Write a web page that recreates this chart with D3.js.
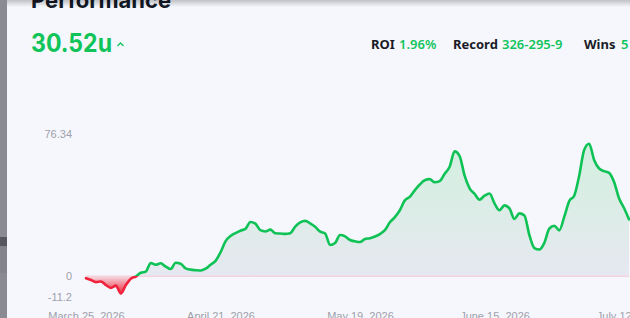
<!DOCTYPE html>
<html><head><meta charset="utf-8">
<script src="https://cdn.jsdelivr.net/npm/d3@7/dist/d3.min.js"></script>
<style>html,body{margin:0;padding:0;background:#f5f7fc;overflow:hidden}svg{display:block}</style>
</head><body>
<svg id="c" width="630" height="318"></svg>
<script>
// ---- data ----
const startDate = [2026, 2, 25]; // March 25, 2026 (month 0-based)
const cumulativeUnits = [
  -1.1, -2.1, -3.2, -2.9, -4.8, -6.3, -5.1, -9.3, -4.8, -1.4,
  -0.2, 1.8, 2.4, 7.1, 6.1, 6.9, 5.1, 3.8, 7.2, 6.7,
  4.2, 3.5, 3.2, 3.0, 4.0, 6.1, 8.2, 12.8, 18.7, 21.5,
  23.1, 24.4, 25.4, 29.1, 28.2, 24.7, 24.0, 25.0, 23.0, 22.9,
  22.7, 23.1, 26.6, 28.9, 29.7, 28.3, 26.5, 23.9, 22.9, 16.7,
  17.8, 22.1, 21.4, 19.4, 18.7, 18.3, 20.0, 20.4, 21.3, 22.6,
  24.7, 28.9, 31.7, 35.4, 40.7, 42.6, 46.1, 49.2, 51.5, 52.1,
  50.4, 51.0, 55.0, 58.8, 67.0, 64.5, 54.0, 47.2, 44.2, 41.1,
  43.2, 44.4, 39.1, 35.4, 38.0, 36.4, 30.7, 33.7, 32.6, 22.1,
  15.1, 14.3, 17.9, 25.5, 27.1, 24.6, 31.8, 40.3, 43.2, 53.9,
  67.8, 71.1, 62.4, 57.8, 56.4, 55.5, 50.6, 41.8, 36.6, 30.52
];
const yTickValues = [76.34, 0, -11.2];
const yDomain = [-11.2, 76.34];
const xTickIndices = [0, 27, 55, 82, 109];
const titleText = "Performance";
const headlineText = "30.52u";
const statLabels = ["ROI", "Record", "Wins"];
const statValues = ["1.96%", "326-295-9", "5"];

// ---- chart ----
const svg = d3.select("#c");
const green = "#0fc255", red = "#f0233d";
const dates = cumulativeUnits.map((v, i) => d3.timeDay.offset(new Date(startDate[0], startDate[1], startDate[2]), i));
const data = cumulativeUnits.map((v, i) => ({d: dates[i], v}));

const x = d3.scaleTime().domain([dates[0], dates[dates.length - 1]]).range([86, 629]);
const y = d3.scaleLinear().domain(yDomain).range([297, 134]);

const defs = svg.append("defs");
const zeroOff = (y(0) - y(yDomain[1])) / (y(yDomain[0]) - y(yDomain[1]));

const fg = defs.append("linearGradient").attr("id", "fillG")
  .attr("gradientUnits", "userSpaceOnUse").attr("x1", 0).attr("x2", 0)
  .attr("y1", y(yDomain[1])).attr("y2", y(yDomain[0]));
[[0, "#d3eee1", 1], [0.3, "#d8eee4", 1], [0.6, "#e0ebea", 1], [zeroOff, "#e6e8f1", 1],
 [zeroOff, "#f6dbe1", 1], [0.97, "#ee3a4e", 1], [1, "#ee2a40", 1]].forEach(s =>
  fg.append("stop").attr("offset", s[0]).attr("stop-color", s[1]).attr("stop-opacity", s[2]));

const lg = defs.append("linearGradient").attr("id", "lineG")
  .attr("gradientUnits", "userSpaceOnUse").attr("x1", 0).attr("x2", 0)
  .attr("y1", y(yDomain[1])).attr("y2", y(yDomain[0]));
[[0, green], [zeroOff, green], [zeroOff, red], [1, red]].forEach(s =>
  lg.append("stop").attr("offset", s[0]).attr("stop-color", s[1]));

const area = d3.area().curve(d3.curveMonotoneX).x(d => x(d.d)).y0(y(0)).y1(d => y(d.v));
const line = d3.line().curve(d3.curveMonotoneX).x(d => x(d.d)).y(d => y(d.v));

svg.append("path").datum(data).attr("d", area).attr("fill", "url(#fillG)");
svg.append("line").attr("x1", x.range()[0]).attr("x2", x.range()[1])
  .attr("y1", y(0)).attr("y2", y(0)).attr("stroke", "#f3d4de").attr("stroke-width", 1.5);
svg.append("path").datum(data).attr("d", line).attr("fill", "none")
  .attr("stroke", "url(#lineG)").attr("stroke-width", 2.6)
  .attr("stroke-linejoin", "round").attr("stroke-linecap", "round");

// y axis labels
const yAxis = svg.append("g").attr("transform", "translate(72,0)")
  .call(d3.axisLeft(y).tickValues(yTickValues).tickSize(0).tickPadding(0).tickFormat(d => String(d)));
yAxis.select(".domain").remove();
yAxis.selectAll("text").attr("fill", "#9ea1ab").style("font", "11px 'Liberation Sans', Arial, sans-serif");

// x axis labels
const fmt = d3.timeFormat("%B %-d, %Y");
const xAxis = svg.append("g").attr("transform", "translate(0,312)")
  .call(d3.axisBottom(x).tickValues(xTickIndices.map(i => dates[i])).tickSize(0).tickPadding(0).tickFormat(fmt));
xAxis.select(".domain").remove();
xAxis.selectAll("text").attr("fill", "#9ea1ab").style("font", "11px 'Liberation Sans', Arial, sans-serif");

// header
svg.append("text").attr("x", 31).attr("y", 8).text(titleText)
  .attr("fill", "#121826").style("font", "700 22px Inter, sans-serif");
svg.append("text").attr("x", 31).attr("y", 52).text(headlineText)
  .attr("textLength", 81).attr("lengthAdjust", "spacingAndGlyphs")
  .attr("fill", "#10c45a").style("font", "700 25px Inter, sans-serif");
svg.append("path").attr("d", "M117.5,46 L120.5,43 L123.5,46").attr("fill", "none")
  .attr("stroke", "#10c45a").attr("stroke-width", 1.3);

const statLabelX = [371, 453, 584], statValueX = [399, 502, 621];
statLabels.forEach((t, i) => {
  svg.append("text").attr("x", statLabelX[i]).attr("y", 49).text(t)
    .attr("fill", "#1a1b26").style("font", "700 13px 'Noto Sans', 'Open Sans', sans-serif");
  svg.append("text").attr("x", statValueX[i]).attr("y", 49).text(statValues[i])
    .attr("fill", "#12c45c").style("font", "600 13px 'Noto Sans', 'Open Sans', sans-serif");
});

// page frame details: top shadow and left strip
const sg = defs.append("linearGradient").attr("id", "shadowG").attr("x1", 0).attr("x2", 0).attr("y1", 0).attr("y2", 1);
sg.append("stop").attr("offset", 0).attr("stop-color", "#000").attr("stop-opacity", 0.22);
sg.append("stop").attr("offset", 1).attr("stop-color", "#000").attr("stop-opacity", 0);
svg.append("rect").attr("x", 0).attr("y", 0).attr("width", 630).attr("height", 7).attr("fill", "url(#shadowG)");
svg.append("rect").attr("x", 0).attr("y", 0).attr("width", 7).attr("height", 318).attr("fill", "#8a8a93");
svg.append("rect").attr("x", 0).attr("y", 237).attr("width", 7).attr("height", 9).attr("fill", "#56565e");
svg.append("rect").attr("x", 0).attr("y", 246).attr("width", 7).attr("height", 27).attr("fill", "#83838b");
</script>
</body></html>
